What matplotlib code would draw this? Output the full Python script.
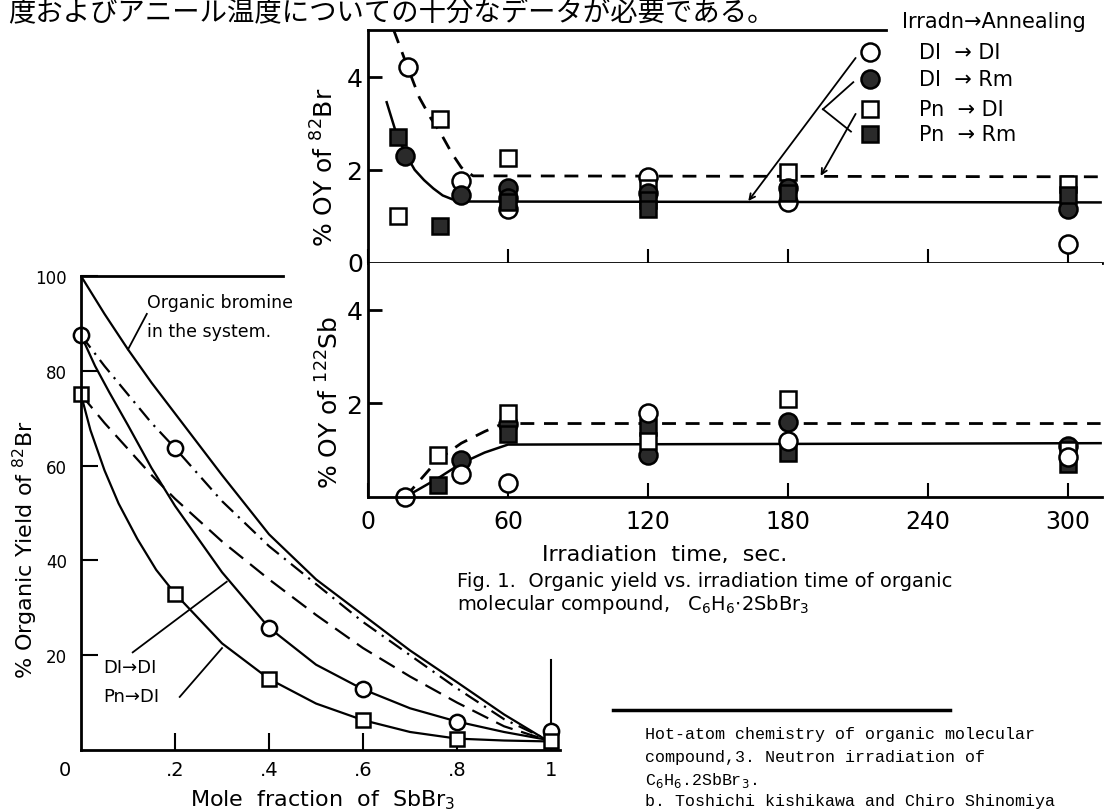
import matplotlib.pyplot as plt

# ---- upper right: % OY of 82Br vs irradiation time ----
br_t_dd = [17, 40, 60, 120, 180, 300]
br_dd = [4.2, 1.75, 1.15, 1.85, 1.3, 0.4]
br_t_dr = [16, 40, 60, 60, 120, 180, 300]
br_dr = [2.3, 1.45, 1.6, 1.4, 1.5, 1.6, 1.15]
br_t_pd = [13, 31, 60, 120, 180, 300]
br_pd = [1.0, 3.1, 2.25, 1.6, 1.95, 1.7]
br_t_pr = [13, 31, 60, 120, 120, 180, 300]
br_pr = [2.7, 0.8, 1.3, 1.35, 1.15, 1.5, 1.45]

br_fit_t_solid = [8, 12, 16, 20, 24, 28, 32, 36, 41, 314]
br_fit_solid = [3.45, 2.8, 2.35, 2.0, 1.78, 1.6, 1.45, 1.37, 1.32, 1.3]
br_fit_t_dash = [11, 14, 17, 22, 27, 31, 36, 40, 45, 314]
br_fit_dash = [5.0, 4.6, 4.2, 3.55, 3.1, 2.8, 2.35, 2.05, 1.87, 1.85]

# ---- lower right: % OY of 122Sb vs irradiation time ----
sb_t_dd = [16, 40, 60, 120, 180, 300]
sb_dd = [0.0, 0.5, 0.3, 1.8, 1.2, 0.85]
sb_t_dr = [40, 60, 120, 180, 300]
sb_dr = [0.8, 1.55, 0.9, 1.6, 1.1]
sb_t_pd = [30, 60, 120, 180, 300]
sb_pd = [0.9, 1.8, 1.2, 2.1, 1.0]
sb_t_pr = [30, 60, 120, 180, 300]
sb_pr = [0.25, 1.35, 1.5, 0.95, 0.7]

sb_fit_t_solid = [16, 23, 30, 40, 50, 60, 314]
sb_fit_solid = [0.0, 0.2, 0.4, 0.72, 0.95, 1.12, 1.15]
sb_fit_t_dash = [16, 23, 30, 40, 50, 58, 314]
sb_fit_dash = [0.0, 0.4, 0.8, 1.15, 1.4, 1.57, 1.57]

time_ticks = [0, 60, 120, 180, 240, 300]

# ---- lower left: % organic yield vs mole fraction of SbBr3 ----
mf = [0, 0.2, 0.4, 0.6, 0.8, 1.0]
oy_dd = [87.5, 63.7, 25.8, 12.8, 6.0, 4.0]
oy_pd = [75.1, 33.0, 15.0, 6.3, 2.4, 2.0]

fit_x = [0, 0.05, 0.1, 0.15, 0.2, 0.3, 0.4, 0.5, 0.6, 0.7, 0.8, 0.9, 1.0]
org_br = [100, 92, 84.5, 77.5, 71, 58, 45.5, 36, 28.5, 21, 14.3, 7.5, 1.5]
curve_dashdot = [87.5, 81, 75, 69, 63.7, 52.5, 43, 35, 27, 20, 13, 6.5, 1.8]
curve_dashed = [75, 69, 63.5, 58, 53, 44, 36, 28.5, 21.5, 15.5, 10, 5, 1.8]

fit_dd_x = [0, 0.03, 0.06, 0.1, 0.15, 0.2, 0.3, 0.4, 0.5, 0.6, 0.7, 0.8, 0.9, 1.0]
fit_dd = [87.5, 81, 75.5, 68.5, 59.5, 51.5, 37.5, 25.8, 18, 12.8, 8.8, 6.0, 3.8, 2.0]
fit_pd_x = [0, 0.02, 0.05, 0.08, 0.12, 0.16, 0.2, 0.3, 0.4, 0.5, 0.6, 0.7, 0.8, 0.9, 1.0]
fit_pd = [75, 67.5, 59, 52, 44.5, 38, 33, 22.5, 15, 9.8, 6.3, 3.8, 2.4, 2.0, 1.8]

W, H = 1118, 812
def fx(px): return px / W
def fy(py): return 1 - py / H

DARK = '#2a2a2a'
fig = plt.figure(figsize=(W / 100, H / 100), dpi=100)

ax_br = fig.add_axes([fx(368), fy(264), (1102 - 368) / W, (264 - 31) / H])
ax_sb = fig.add_axes([fx(368), fy(498), (1102 - 368) / W, (498 - 264) / H])
ax_mf = fig.add_axes([fx(81), fy(751), (560 - 81) / W, (751 - 277) / H])
ax_mf.patch.set_alpha(0)

for ax in (ax_br, ax_sb):
    ax.set_xlim(0, 314.6)
    ax.set_ylim(0, 5)
    ax.spines['top'].set_visible(False)
    ax.spines['right'].set_visible(False)
    for s in ('left', 'bottom'):
        ax.spines[s].set_linewidth(2)
    ax.set_yticks([2, 4])
    ax.set_yticklabels(['2', '4'], fontsize=18)
    ax.tick_params(axis='y', direction='in', length=10, width=2, pad=4)
    ax.tick_params(axis='x', direction='in', length=10, width=1.5, pad=9, labelsize=17)
    ax.set_xticks(time_ticks)

ax_br.set_xticklabels([])
ax_sb.set_xticklabels([str(t) for t in time_ticks])
ax_br.plot([0, 222], [5, 5], color='k', lw=2, clip_on=False)

mk = dict(color='k', mec='k', mew=1.8, ls='none', clip_on=False)
# upper: open markers first, filled on top
ax_br.plot(br_fit_t_solid, br_fit_solid, color='k', lw=1.8)
ax_br.plot(br_fit_t_dash, br_fit_dash, color='k', lw=2, ls=(0, (5, 3.5)))
ax_br.plot(br_t_dd, br_dd, marker='o', ms=13, mfc='white', **mk)
ax_br.plot(br_t_pd, br_pd, marker='s', ms=12, mfc='white', **mk)
ax_br.plot(br_t_dr, br_dr, marker='o', ms=13, mfc=DARK, **mk)
ax_br.plot(br_t_pr, br_pr, marker='s', ms=12, mfc=DARK, **mk)

# lower: filled first, open on top
ax_sb.plot(sb_fit_t_solid, sb_fit_solid, color='k', lw=1.8)
ax_sb.plot(sb_fit_t_dash, sb_fit_dash, color='k', lw=2, ls=(0, (5, 3.5)))
ax_sb.plot(sb_t_dr, sb_dr, marker='o', ms=13, mfc=DARK, **mk)
ax_sb.plot(sb_t_pr, sb_pr, marker='s', ms=12, mfc=DARK, **mk)
ax_sb.plot(sb_t_pd, sb_pd, marker='s', ms=12, mfc='white', **mk)
ax_sb.plot(sb_t_dd, sb_dd, marker='o', ms=13, mfc='white', **mk)

# legend key drawn inside the upper panel
leg_y = [4.53, 3.95, 3.3, 2.77]
leg_txt = ['DI  \u2192 DI', 'DI  \u2192 Rm', 'Pn  \u2192 DI', 'Pn  \u2192 Rm']
leg_mk = [('o', 'white'), ('o', DARK), ('s', 'white'), ('s', DARK)]
for y, t, (m, fc) in zip(leg_y, leg_txt, leg_mk):
    ax_br.plot([215], [y], marker=m, ms=13 if m == 'o' else 12, mfc=fc, **mk)
    ax_br.text(236, y, t, fontsize=15, va='center', ha='left')
fig.text(fx(902), fy(22), 'Irradn\u2192Annealing', fontsize=15, va='center', ha='left')

arr = dict(arrowstyle='->', lw=1.3, color='k', shrinkA=0, shrinkB=0)
ax_br.annotate('', xy=(163, 1.33), xytext=(209, 4.4), arrowprops=arr, annotation_clip=False)
ax_br.plot([208, 195], [3.88, 3.3], color='k', lw=1.3)
ax_br.plot([207, 195], [2.82, 3.3], color='k', lw=1.3)
ax_br.annotate('', xy=(194, 1.87), xytext=(209, 3.2), arrowprops=arr, annotation_clip=False)

fig.text(fx(355), fy(265), '0', fontsize=18, ha='center', va='center')
fig.text(fx(325), fy(167), '% OY of $^{82}$Br', fontsize=18, rotation=90, ha='center', va='center')
fig.text(fx(330), fy(402), '% OY of $^{122}$Sb', fontsize=18, rotation=90, ha='center', va='center')
fig.text(fx(665), fy(555), 'Irradiation  time,  sec.', fontsize=16, ha='center', va='center')
fig.text(fx(457), fy(582), 'Fig. 1.  Organic yield vs. irradiation time of organic',
         fontsize=14, ha='left', va='center')
fig.text(fx(457), fy(605), 'molecular compound,   C$_6$H$_6$$\\cdot$2SbBr$_3$',
         fontsize=14, ha='left', va='center')

# ---- left chart ----
ax_mf.set_xlim(0, 1.019)
ax_mf.set_ylim(0, 100)
ax_mf.spines['top'].set_visible(False)
ax_mf.spines['right'].set_visible(False)
for s in ('left', 'bottom'):
    ax_mf.spines[s].set_linewidth(2)
ax_mf.set_yticks([20, 40, 60, 80, 100])
ax_mf.set_yticklabels(['20', '40', '60', '80', '100'], fontsize=12)
ax_mf.set_xticks([0.2, 0.4, 0.6, 0.8])
ax_mf.set_xticklabels(['.2', '.4', '.6', '.8'], fontsize=14)
ax_mf.tick_params(axis='y', direction='in', length=12, width=1.5, pad=10)
ax_mf.tick_params(axis='x', direction='in', length=12, width=1.5, pad=7)
ax_mf.plot([0, 0.43], [100, 100], color='k', lw=2, clip_on=False)
ax_mf.plot([1, 1], [0, 19], color='k', lw=1.5)
ax_mf.text(-0.035, -4.2, '0', fontsize=14, ha='center', va='center', clip_on=False)
ax_mf.text(1.0, -4.2, '1', fontsize=14, ha='center', va='center', clip_on=False)

ax_mf.plot(fit_x, org_br, color='k', lw=1.6)
ax_mf.plot(fit_x, curve_dashdot, color='k', lw=1.6, ls=(0, (7, 3, 1, 3)))
ax_mf.plot(fit_x, curve_dashed, color='k', lw=1.6, ls=(0, (8, 4)))
ax_mf.plot(fit_dd_x, fit_dd, color='k', lw=1.6)
ax_mf.plot(fit_pd_x, fit_pd, color='k', lw=1.6)
ax_mf.plot(mf, oy_dd, marker='o', ms=11, mfc='white', **mk)
ax_mf.plot(mf, oy_pd, marker='s', ms=10, mfc='white', **mk)

fig.text(fx(147), fy(303), 'Organic bromine', fontsize=12.5, ha='left', va='center')
fig.text(fx(147), fy(332), 'in the system.', fontsize=12.5, ha='left', va='center')
ax_mf.plot([0.14, 0.10], [92, 84.5], color='k', lw=1.3)
fig.text(fx(103), fy(668), 'DI\u2192DI', fontsize=13, ha='left', va='center')
fig.text(fx(103), fy(697), 'Pn\u2192DI', fontsize=13, ha='left', va='center')
ax_mf.plot([0.11, 0.31], [20.6, 35.5], color='k', lw=1.3)
ax_mf.plot([0.21, 0.30], [11.2, 21.5], color='k', lw=1.3)

fig.text(fx(25), fy(550), '% Organic Yield of $^{82}$Br', fontsize=16, rotation=90,
         ha='center', va='center')
fig.text(fx(323), fy(800), 'Mole  fraction  of  SbBr$_3$', fontsize=16, ha='center', va='center')

# ---- surrounding page text ----
fig.text(fx(8), fy(14), '度およびアニール温度についての十分なデータが必要である。',
         fontsize=19.7, family=['Noto Sans CJK JP', 'DejaVu Sans'], ha='left', va='center')

fig.add_artist(plt.Line2D([fx(613), fx(950)], [fy(711), fy(711)], color='k', lw=2.5))
mono = dict(fontsize=12, family='Liberation Mono', ha='left', va='center')
fig.text(fx(645), fy(735), 'Hot-atom chemistry of organic molecular', **mono)
fig.text(fx(645), fy(758), 'compound,3. Neutron irradiation of', **mono)
fig.text(fx(645), fy(781), 'C$_6$H$_6$.2SbBr$_3$.', **mono)
fig.text(fx(645), fy(802), 'b. Toshichi kishikawa and Chiro Shinomiya', **mono)

fig.savefig('out.png', dpi=100)
